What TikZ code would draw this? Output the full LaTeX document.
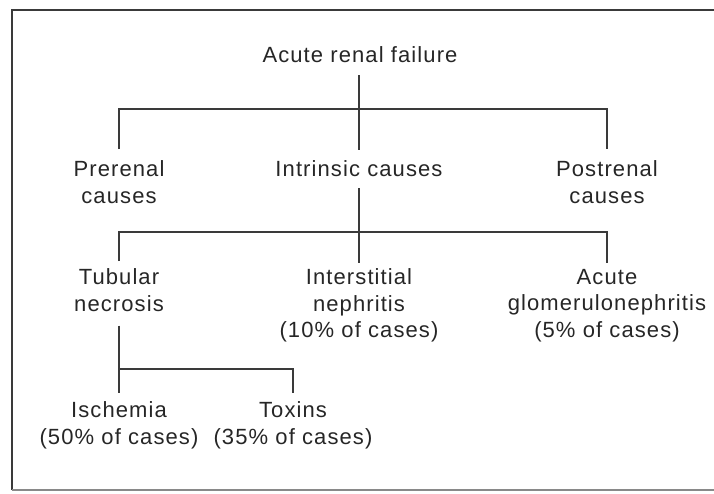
\documentclass[tikz,border=0pt]{standalone}
\usepackage{fontspec}
\setmainfont{Liberation Sans}[LetterSpace=5]
\usetikzlibrary{calc}
\definecolor{ink}{HTML}{262626}
\definecolor{rule}{HTML}{3A3A3A}
\begin{document}
\begin{tikzpicture}[x=1pt,y=-1pt,
  lbl/.style={anchor=north,inner sep=0pt,outer sep=0pt,align=center,text=ink,
    font={\fontsize{22}{26.5}\selectfont}},
  conn/.style={draw=rule,line width=1.8pt},
  frame/.style={draw=rule,line width=1.8pt}]
\useasboundingbox (0,0) rectangle (714,493);
% frame
\draw[frame] (12,490) -- (12,10) -- (714,10);
\draw[draw=rule!60,line width=1.2pt] (12,490) -- (714,490);
% nodes
\node[lbl] (root)  at (360,47)  {Acute renal failure};
\node[lbl] (pre)   at (119,161) {Prerenal\\causes};
\node[lbl] (intr)  at (359,161) {Intrinsic causes};
\node[lbl] (post)  at (607,161) {Postrenal\\causes};
\node[lbl] (tub)   at (119,269) {Tubular\\necrosis};
\node[lbl] (inter) at (359,269) {Interstitial\\nephritis\\(10\% of cases)};
\node[lbl] (glom)  at (607,269) {Acute\\glomerulonephritis\\(5\% of cases)};
\node[lbl] (isch)  at (119,402) {Ischemia\\(50\% of cases)};
\node[lbl] (tox)   at (293,402) {Toxins\\(35\% of cases)};
\coordinate (j1) at (359,109);
\coordinate (j2) at (359,232);
\coordinate (j3) at (119,369);
% connectors
\draw[conn] ([yshift=-12pt]root.south -| intr.north) -- ([yshift=11pt]intr.north);
\draw[conn] ([yshift=12pt]pre.north) |- (j1) -| ([yshift=12pt]post.north);
\draw[conn] ([yshift=-11pt]intr.south) -- ([yshift=6pt]inter.north);
\draw[conn] ([yshift=8pt]tub.north) |- (j2) -| ([yshift=6pt]glom.north);
\draw[conn] ([yshift=-14pt]tub.south) -- ([yshift=9pt]isch.north);
\draw[conn] (j3) -| ([yshift=9pt]tox.north);
\end{tikzpicture}
\end{document}
